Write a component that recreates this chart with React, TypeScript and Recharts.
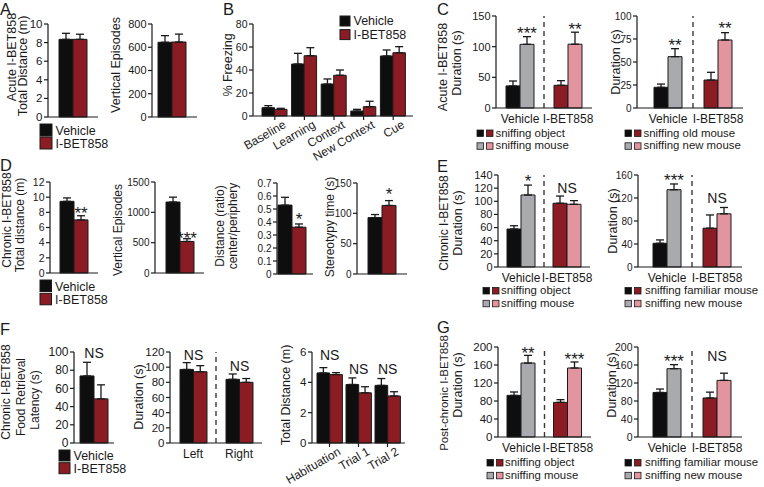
import React from "react";
import {
  Bar,
  BarChart,
  Cell,
  ErrorBar,
  LabelList,
  ReferenceLine,
  XAxis,
  YAxis,
} from "recharts";

const FONT = '"Liberation Sans", Arial, Helvetica, sans-serif';
const INK = "#1a1a1a";
const BLACK = "#0e0e0e";
const RED = "#8b1c23";
const GREY = "#a8aaad";
const PINK = "#e3959f";

// ---- A: acute I-BET858, open field
const oneCat = [""];
const aDistVeh = [8.35];
const aDistVehErr = [0.65];
const aDistIbet = [8.35];
const aDistIbetErr = [0.55];
const aVertVeh = [643];
const aVertVehErr = [57];
const aVertIbet = [645];
const aVertIbetErr = [68];

// ---- B: fear conditioning
const bCats = ["Baseline", "Learning", "Context", "New Context", "Cue"];
const bVeh = [7.2, 45.2, 27.8, 4.3, 52.2];
const bVehErr = [1.8, 9.3, 4.4, 1.5, 5.2];
const bIbet = [5.8, 52.4, 35.4, 8.1, 55.0];
const bIbetErr = [0.9, 7.0, 4.6, 4.7, 5.3];

// ---- C / E / G: social tests, two groups
const groupCats = ["Vehicle", "I-BET858"];
const cObj = [36, 37];
const cObjErr = [8, 7.6];
const cMouse = [103.8, 104];
const cMouseErr = [12.5, 19.6];
const cSig = ["***", "**"];
const cSigAt = [124, 130];
const cOld = [22.5, 30.4];
const cOldErr = [3.5, 8.4];
const cNew = [55.8, 73.9];
const cNewErr = [8.7, 8];
const cNewSig = ["**", "**"];
const cNewSigAt = [70, 88];

// ---- D: chronic I-BET858, open field
const dDistVeh = [9.45];
const dDistVehErr = [0.45];
const dDistIbet = [7.0];
const dDistIbetErr = [0.55];
const dVertVeh = [1170];
const dVertVehErr = [80];
const dVertIbet = [520];
const dVertIbetErr = [45];
const dRatioVeh = [0.53];
const dRatioVehErr = [0.06];
const dRatioIbet = [0.36];
const dRatioIbetErr = [0.025];
const dStereoVeh = [93];
const dStereoVehErr = [5];
const dStereoIbet = [113];
const dStereoIbetErr = [8];

const eObj = [57.8, 97];
const eObjErr = [5, 11];
const eMouse = [109.6, 95.4];
const eMouseErr = [15, 5.6];
const eSig = ["*", "NS"];
const eSigAt = [133, 112];
const eFam = [41.3, 67.5];
const eFamErr = [5.8, 23];
const eNew = [134.4, 92.5];
const eNewErr = [10, 11];
const eNewSig = ["***", "NS"];
const eNewSigAt = [153, 112];

// ---- F: chronic, food retrieval / olfaction / activity
const fLatVeh = [73.7];
const fLatVehErr = [15];
const fLatIbet = [48.5];
const fLatIbetErr = [15.4];
const sideCats = ["Left", "Right"];
const fSideVeh = [97, 84];
const fSideVehErr = [9, 7];
const fSideIbet = [94, 80];
const fSideIbetErr = [8, 5];
const fSideSigAt = [110, 95];
const trialCats = ["Habituation", "Trial 1", "Trial 2"];
const fTrialVeh = [4.62, 3.86, 3.8];
const fTrialVehErr = [0.35, 0.43, 0.45];
const fTrialIbet = [4.51, 3.31, 3.1];
const fTrialIbetErr = [0.13, 0.4, 0.28];
const fTrialSigAt = [5.45, 4.58, 4.58];

// ---- G: post-chronic
const gObj = [92.5, 77];
const gObjErr = [7.5, 6];
const gMouse = [164.4, 153.3];
const gMouseErr = [17, 13.4];
const gSig = ["**", "***"];
const gSigAt = [190, 175];
const gFam = [99, 86.7];
const gFamErr = [7.6, 13];
const gNew = [151.8, 125.8];
const gNewErr = [9, 16];
const gNewSig = ["***", "NS"];
const gNewSigAt = [172, 168];

type Row = {
  cat: string;
  a: number;
  ae: [number, number];
  b: number;
  be: [number, number];
  sig: string;
  sigAt: number;
  pos: "b" | "g";
};

function rows(
  cats: string[],
  a: number[],
  ae: number[],
  b: number[],
  be: number[],
  sig: string[] = [],
  sigAt: number[] = [],
): Row[] {
  return cats.map((c, i) => ({
    cat: c,
    a: a[i],
    ae: [0, ae[i]],
    b: b[i],
    be: [0, be[i]],
    sig: sig[i] ?? "",
    sigAt: sigAt[i] ?? 0,
    // NS sits over the pair, stars over the second bar
    pos: sig[i] === "NS" ? "g" : "b",
  }));
}

const drugCols = (n: number) => [Array(n).fill(BLACK), Array(n).fill(RED)];
const socialCols = [
  [BLACK, RED],
  [GREY, PINK],
];

const YW = 40;
const TOP = 12;
const RIGHT = 6;

function SlantTick(props: any) {
  const { x, y, payload } = props;
  return (
    <text
      transform={`translate(${x + 12},${y + 5}) rotate(-30)`}
      textAnchor="end"
      fontSize={12}
      fontFamily={FONT}
      fill={INK}
    >
      {payload.value}
    </text>
  );
}

const sigLabel = (data: Row[]) => (p: any) => {
  const r = data.find((d) => d.cat === p.value);
  if (!r || !r.sig) return null;
  const vb = p.viewBox && p.viewBox.width !== undefined ? p.viewBox : p;
  const x = Number(vb.x);
  const y = Number(vb.y);
  const w = Number(vb.width);
  const h = Number(vb.height);
  if (!(h > 0)) return null;
  const k = h / r.a;
  const bottom = y + h - r.sigAt * k;
  const star = r.sig.includes("*");
  const size = star ? 17 : 14;
  const cx = r.pos === "g" ? x + w : x + 1.5 * w;
  return (
    <text
      x={cx}
      y={star ? bottom + size * 0.42 : bottom}
      textAnchor="middle"
      fontSize={size}
      fontFamily={FONT}
      fill={INK}
    >
      {r.sig}
    </text>
  );
};

type Spec = {
  x0: number;
  x1: number;
  y0: number;
  y1: number;
  padL?: number;
  padR?: number;
  max: number;
  ticks: number[];
  data: Row[];
  cols: string[][];
  barSize?: number;
  tickFont?: number;
  xMode?: "none" | "flat" | "slant";
  xTickLine?: boolean;
  dashed?: boolean;
};

function Panel(s: Spec) {
  const plotW = s.x1 - s.x0;
  const plotH = s.y1 - s.y0;
  const mode = s.xMode ?? "none";
  const XH = mode === "slant" ? 60 : mode === "flat" ? 24 : 9;
  const bs = s.barSize ?? 14;
  const axis = { stroke: INK, strokeWidth: 1.2 };
  return (
    <div style={{ position: "absolute", left: s.x0 - YW, top: s.y0 - TOP }}>
      <BarChart
        width={YW + plotW + RIGHT}
        height={TOP + plotH + XH}
        data={s.data}
        margin={{ top: TOP, right: RIGHT, left: 0, bottom: 0 }}
        barGap={0}
      >
        <XAxis
          dataKey="cat"
          type="category"
          interval={0}
          height={XH}
          padding={{ left: s.padL ?? 0, right: s.padR ?? 0 }}
          axisLine={axis}
          tickLine={s.xTickLine ? axis : false}
          tickSize={4}
          tickMargin={2}
          tick={
            mode === "none"
              ? false
              : mode === "slant"
                ? <SlantTick />
                : { fill: INK, fontSize: 12, fontFamily: FONT }
          }
        />
        <YAxis
          type="number"
          domain={[0, s.max]}
          ticks={s.ticks}
          interval={0}
          width={YW}
          tickSize={4}
          tickMargin={1.5}
          axisLine={axis}
          tickLine={axis}
          tick={{ fill: INK, fontSize: s.tickFont ?? 11, fontFamily: FONT }}
        />
        {s.dashed && (
          <ReferenceLine
            x={s.data[1].cat}
            position="start"
            stroke="#3a3a3a"
            strokeDasharray="5 4"
            strokeWidth={1.4}
          />
        )}
        <Bar dataKey="a" barSize={bs} stroke={INK} strokeWidth={1} isAnimationActive={false}>
          {s.data.map((_, i) => (
            <Cell key={i} fill={s.cols[0][i]} />
          ))}
          <ErrorBar dataKey="ae" direction="y" width={4} stroke={INK} strokeWidth={1.3} />
          <LabelList dataKey="cat" content={sigLabel(s.data)} />
        </Bar>
        <Bar dataKey="b" barSize={bs} stroke={INK} strokeWidth={1} isAnimationActive={false}>
          {s.data.map((_, i) => (
            <Cell key={i} fill={s.cols[1][i]} />
          ))}
          <ErrorBar dataKey="be" direction="y" width={4} stroke={INK} strokeWidth={1.3} />
        </Bar>
      </BarChart>
    </div>
  );
}

// rotated axis titles: [text, x centre, y centre, font size]
const titles: [string, number, number, number][] = [
  ["Acute I-BET858", 12, 57, 12.5],
  ["Total Distance (m)", 23, 66, 12.5],
  ["Vertical Episodes", 116, 65, 12.5],
  ["% Freezing", 228, 65, 12.5],
  ["Acute I-BET858", 443, 67, 12.5],
  ["Duration (s)", 457, 63, 12.5],
  ["Duration (s)", 616, 62, 12.5],
  ["Chronic I-BET858", 7, 220, 12],
  ["Total distance (m)", 20, 225, 12],
  ["Vertical Episodes", 118, 230, 12],
  ["Distance (ratio)", 220, 226, 12],
  ["center/periphery", 233, 226, 12],
  ["Stereotypy time (s)", 330, 227, 12],
  ["Chronic I-BET858", 444, 223, 12],
  ["Duration (s)", 458, 223, 12.5],
  ["Duration (s)", 613, 221, 12.5],
  ["Chronic I-BET858", 6, 392, 12],
  ["Food Retrieval", 21, 397, 12],
  ["Latency (s)", 35, 400, 12],
  ["Duration (s)", 139, 397, 12.5],
  ["Total Distance (m)", 286, 395, 12.5],
  ["Post-chronic I-BET858", 444, 393, 11.5],
  ["Duration (s)", 458, 385, 12.5],
  ["Duration (s)", 612, 385, 12.5],
];

const letters: [string, number, number][] = [
  ["A", 0, 15],
  ["B", 223, 15],
  ["C", 437, 15],
  ["D", 0, 171],
  ["E", 437, 172],
  ["F", 0, 335],
  ["G", 437, 333],
];

// Vehicle / I-BET858 legends: x, first square top, square size, row step
const drugLegends: [number, number, number, number][] = [
  [40, 124, 12, 13],
  [340, 16, 10, 13.6],
  [40, 280, 11.5, 13.3],
  [59, 450, 11, 12.7],
];

// social legends: x of first square, text x, baseline row 1, row step, labels
const socialLegends: [number, number, number, number, string, string][] = [
  [477, 495.5, 136.5, 12.8, "sniffing object", "sniffing mouse"],
  [625, 643.5, 136.5, 12.8, "sniffing old mouse", "sniffing new mouse"],
  [483, 501, 294, 12.8, "sniffing object", "sniffing mouse"],
  [625, 645, 294, 12.8, "sniffing familiar mouse", "sniffing new mouse"],
  [487, 505, 466, 12.8, "sniffing object", "sniffing mouse"],
  [625, 645, 466, 12.8, "sniffing familiar mouse", "sniffing new mouse"],
];

function Overlay() {
  return (
    <svg
      width={764}
      height={487}
      style={{ position: "absolute", left: 0, top: 0, pointerEvents: "none" }}
      fontFamily={FONT}
      fill={INK}
    >
      {letters.map(([t, x, y]) => (
        <text key={t} x={x} y={y} fontSize={16.5}>
          {t}
        </text>
      ))}
      {titles.map(([t, x, y, fs], i) => (
        <text
          key={i}
          transform={`translate(${x},${y}) rotate(-90)`}
          textAnchor="middle"
          dominantBaseline="central"
          fontSize={fs}
        >
          {t}
        </text>
      ))}
      {drugLegends.map(([x, y, s, step], i) => (
        <g key={i}>
          <rect x={x} y={y} width={s} height={s} fill={BLACK} stroke={INK} />
          <rect x={x} y={y + step} width={s} height={s} fill={RED} stroke={INK} />
          <text x={x + s + 3.5} y={y + s - 1} fontSize={12.5}>
            Vehicle
          </text>
          <text x={x + s + 3.5} y={y + step + s - 1} fontSize={12.5}>
            I-BET858
          </text>
        </g>
      ))}
      {socialLegends.map(([x, tx, by, step, l1, l2], i) => (
        <g key={i}>
          <rect x={x} y={by - 6.5} width={6.5} height={6.5} fill={BLACK} stroke={INK} strokeWidth={0.8} />
          <rect x={x + 9.5} y={by - 6.5} width={6.5} height={6.5} fill={RED} stroke={INK} strokeWidth={0.8} />
          <rect x={x} y={by + step - 6.5} width={6.5} height={6.5} fill={GREY} stroke={INK} strokeWidth={0.8} />
          <rect x={x + 9.5} y={by + step - 6.5} width={6.5} height={6.5} fill={PINK} stroke={INK} strokeWidth={0.8} />
          <text x={tx} y={by} fontSize={11.4}>
            {l1}
          </text>
          <text x={tx} y={by + step} fontSize={11.4}>
            {l2}
          </text>
        </g>
      ))}
    </svg>
  );
}

export default function App() {
  return (
    <div
      style={{
        position: "absolute",
        left: 0,
        top: 0,
        width: 764,
        height: 487,
        background: "#fff",
        fontFamily: FONT,
      }}
    >
      {/* A */}
      <Panel x0={48} x1={98} y0={24} y1={117} max={10} ticks={[0, 2, 4, 6, 8, 10]} tickFont={11.5}
        data={rows(oneCat, aDistVeh, aDistVehErr, aDistIbet, aDistIbetErr)} cols={drugCols(1)} />
      <Panel x0={152} x1={197} padR={5} y0={24} y1={117} max={800} ticks={[0, 200, 400, 600, 800]}
        data={rows(oneCat, aVertVeh, aVertVehErr, aVertIbet, aVertIbetErr)} cols={drugCols(1)} />
      {/* B */}
      <Panel x0={253} x1={413} padL={7} padR={5} y0={24} y1={116} max={80} ticks={[0, 20, 40, 60, 80]}
        tickFont={10.5} data={rows(bCats, bVeh, bVehErr, bIbet, bIbetErr)} cols={drugCols(5)} barSize={12.5}
        xMode="slant" xTickLine />
      {/* C */}
      <Panel x0={496} x1={592} y0={16} y1={108} max={150} ticks={[0, 50, 100, 150]}
        data={rows(groupCats, cObj, cObjErr, cMouse, cMouseErr, cSig, cSigAt)} cols={socialCols}
        xMode="flat" dashed />
      <Panel x0={637} x1={743} padL={6} y0={16} y1={108} max={100} ticks={[0, 25, 50, 75, 100]} tickFont={10}
        data={rows(groupCats, cOld, cOldErr, cNew, cNewErr, cNewSig, cNewSigAt)} cols={socialCols}
        xMode="flat" dashed />
      {/* D */}
      <Panel x0={50} x1={98} y0={182} y1={273} max={12} ticks={[0, 2, 4, 6, 8, 10, 12]} tickFont={10.5}
        data={rows(oneCat, dDistVeh, dDistVehErr, dDistIbet, dDistIbetErr, ["**"], [8.0])} cols={drugCols(1)} />
      <Panel x0={155} x1={204} y0={182} y1={273} max={1500} ticks={[0, 500, 1000, 1500]} tickFont={10}
        data={rows(oneCat, dVertVeh, dVertVehErr, dVertIbet, dVertIbetErr, ["***"], [595])} cols={drugCols(1)} />
      <Panel x0={277} x1={313} padR={6} y0={183} y1={274} max={0.7} ticks={[0, 0.1, 0.2, 0.3, 0.4, 0.5, 0.6, 0.7]}
        tickFont={10} data={rows(oneCat, dRatioVeh, dRatioVehErr, dRatioIbet, dRatioIbetErr, ["*"], [0.43])}
        cols={drugCols(1)} />
      <Panel x0={357} x1={407} y0={183} y1={274} max={150} ticks={[0, 50, 100, 150]} tickFont={10}
        data={rows(oneCat, dStereoVeh, dStereoVehErr, dStereoIbet, dStereoIbetErr, ["*"], [133])} cols={drugCols(1)} />
      {/* E */}
      <Panel x0={498} x1={590} y0={175} y1={267} max={140} ticks={[0, 20, 40, 60, 80, 100, 120, 140]}
        data={rows(groupCats, eObj, eObjErr, eMouse, eMouseErr, eSig, eSigAt)} cols={socialCols}
        xMode="flat" dashed />
      <Panel x0={638} x1={742} padL={4} y0={175} y1={267} max={160} ticks={[0, 40, 80, 120, 160]} tickFont={10}
        data={rows(groupCats, eFam, eFamErr, eNew, eNewErr, eNewSig, eNewSigAt)} cols={socialCols}
        xMode="flat" dashed />
      {/* F */}
      <Panel x0={74} x1={114} y0={352} y1={443} max={100} ticks={[0, 20, 40, 60, 80, 100]} tickFont={12}
        data={rows(oneCat, fLatVeh, fLatVehErr, fLatIbet, fLatIbetErr, ["NS"], [93])} cols={drugCols(1)} />
      <Panel x0={170} x1={262} y0={352} y1={443} max={120} ticks={[0, 20, 40, 60, 80, 100, 120]} tickFont={11.5}
        data={rows(sideCats, fSideVeh, fSideVehErr, fSideIbet, fSideIbetErr, ["NS", "NS"], fSideSigAt)}
        cols={drugCols(2)} barSize={13.5} xMode="flat" dashed />
      <Panel x0={312} x1={405} padL={3} padR={3} y0={352} y1={443} max={6} ticks={[0, 2, 4, 6]} tickFont={11.5}
        data={rows(trialCats, fTrialVeh, fTrialVehErr, fTrialIbet, fTrialIbetErr, ["NS", "NS", "NS"], fTrialSigAt)}
        cols={drugCols(3)} barSize={12.7} xMode="slant" xTickLine />
      {/* G */}
      <Panel x0={498} x1={591} y0={347} y1={437} max={200} ticks={[0, 40, 80, 120, 160, 200]} tickFont={11.5}
        data={rows(groupCats, gObj, gObjErr, gMouse, gMouseErr, gSig, gSigAt)} cols={socialCols}
        xMode="flat" dashed />
      <Panel x0={638} x1={742} padL={4} y0={347} y1={437} max={200} ticks={[0, 40, 80, 120, 160, 200]} tickFont={10.5}
        data={rows(groupCats, gFam, gFamErr, gNew, gNewErr, gNewSig, gNewSigAt)} cols={socialCols}
        xMode="flat" dashed />
      <Overlay />
    </div>
  );
}
